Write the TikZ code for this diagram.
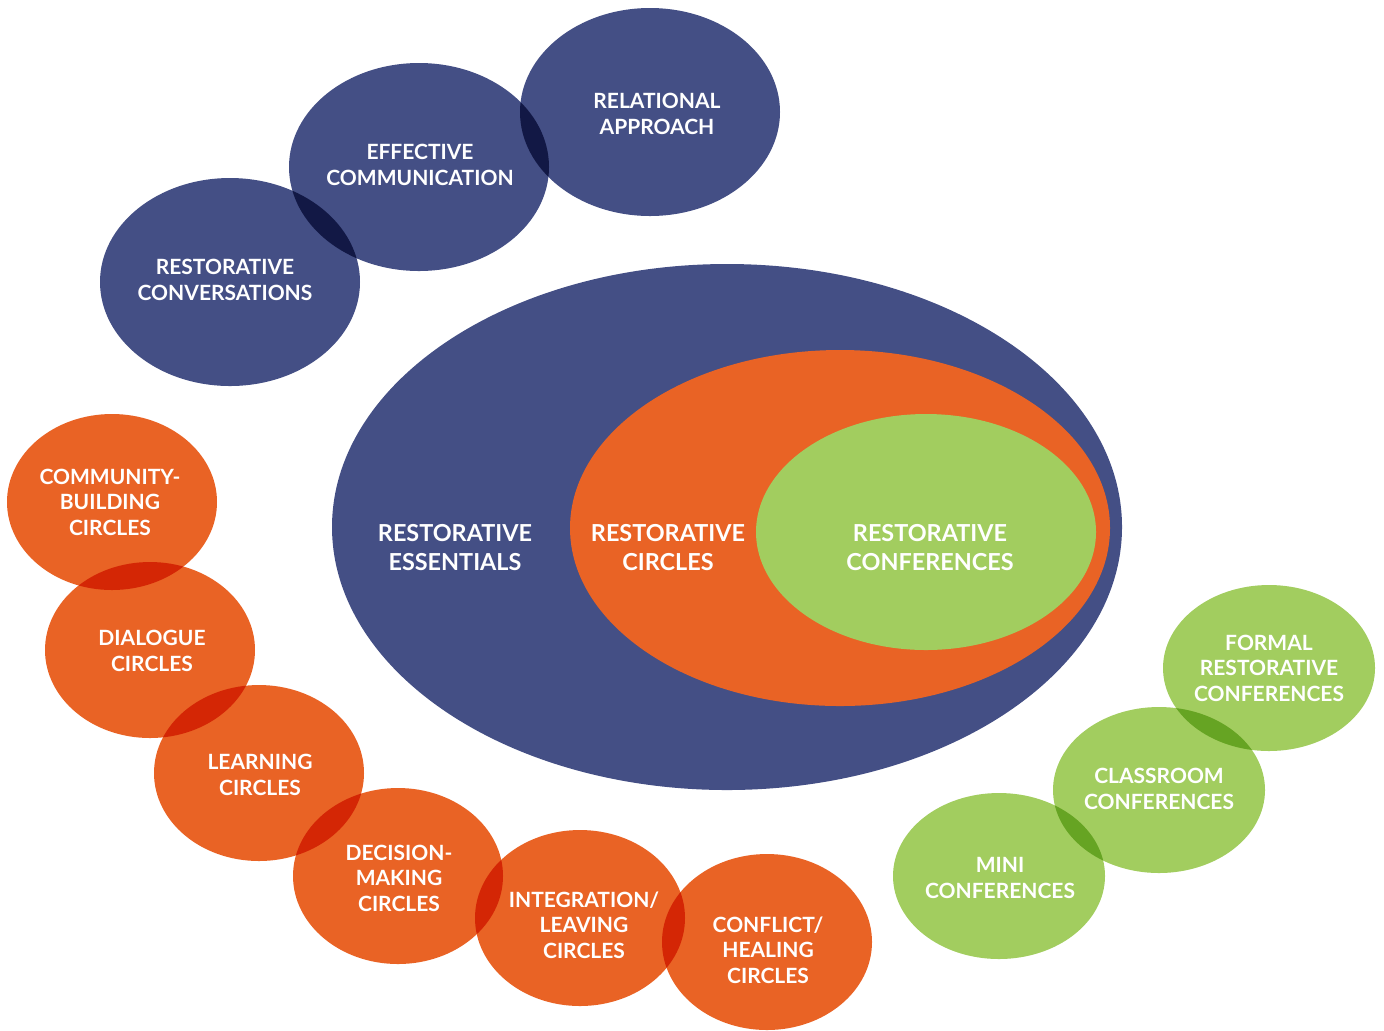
\documentclass[tikz,border=0pt]{standalone}
\usepackage{fontspec}
\setmainfont{Lato}
\usetikzlibrary{shapes.geometric}

\definecolor{navy}{RGB}{68,79,133}
\definecolor{rorange}{RGB}{233,99,37}
\definecolor{rgreen}{RGB}{162,205,95}

\tikzset{
  blob/.style={ellipse, inner sep=0pt, outer sep=0pt},
  navyblob/.style={blob, fill=navy, minimum width=130pt, minimum height=104pt},
  orangeblob/.style={blob, fill=rorange, minimum width=105pt, minimum height=88pt},
  greenblob/.style={blob, fill=rgreen, minimum width=106pt, minimum height=83pt},
  lbl/.style={text=white, align=center, inner sep=0pt,
    font=\bfseries\fontsize{10.5}{12.75}\selectfont},
  biglbl/.style={lbl, font=\bfseries\fontsize{11.7}{14.5}\selectfont}
}

\begin{document}
\begin{tikzpicture}[x=0.5pt, y=-0.5pt]
  \useasboundingbox (0,0) rectangle (1384,1030);

  % the three nested ellipses
  \node[blob, fill=navy, minimum width=395pt, minimum height=263pt] (ess) at (727,527) {};
  \node[blob, fill=rorange, minimum width=270pt, minimum height=178pt] (circ) at (840,528) {};
  \node[blob, fill=rgreen, minimum width=170pt, minimum height=118pt] (conf) at (926,532) {};

  % small ellipses, overlaps darken
  \begin{scope}[blend group=multiply]
    \node[navyblob] (rel) at (650,112) {};
    \node[navyblob] (eff) at (419,167) {};
    \node[navyblob] (conv) at (230,282) {};

    \node[orangeblob] (cb) at (112,502) {};
    \node[orangeblob] (dlg) at (150,650) {};
    \node[orangeblob] (lrn) at (259,773) {};
    \node[orangeblob] (dm) at (398,876) {};
    \node[orangeblob] (il) at (580,918) {};
    \node[orangeblob] (ch) at (767,942) {};

    \node[greenblob] (frc) at (1269,668) {};
    \node[greenblob] (cls) at (1159,790) {};
    \node[greenblob] (mini) at (999,876) {};
  \end{scope}

  % labels
  \node[biglbl] (ess-t) at (455,548) {RESTORATIVE\\ESSENTIALS};
  \node[biglbl] (circ-t) at (668,548) {RESTORATIVE\\CIRCLES};
  \node[biglbl] (conf-t) at (930,548) {RESTORATIVE\\CONFERENCES};

  \node[lbl] (rel-t) at (657,114) {RELATIONAL\\APPROACH};
  \node[lbl] (eff-t) at (420,165) {EFFECTIVE\\COMMUNICATION};
  \node[lbl] (conv-t) at (225,280) {RESTORATIVE\\CONVERSATIONS};

  \node[lbl] (cb-t) at (110,502) {COMMUNITY-\\BUILDING\\CIRCLES};
  \node[lbl] (dlg-t) at (152,651) {DIALOGUE\\CIRCLES};
  \node[lbl] (lrn-t) at (260,775) {LEARNING\\CIRCLES};
  \node[lbl] (dm-t) at (399,878) {DECISION-\\MAKING\\CIRCLES};
  \node[lbl] (il-t) at (584,925) {INTEGRATION/\\LEAVING\\CIRCLES};
  \node[lbl] (ch-t) at (768,950) {CONFLICT/\\HEALING\\CIRCLES};

  \node[lbl] (frc-t) at (1269,668) {FORMAL\\RESTORATIVE\\CONFERENCES};
  \node[lbl] (cls-t) at (1159,789) {CLASSROOM\\CONFERENCES};
  \node[lbl] (mini-t) at (1000,878) {MINI\\CONFERENCES};
\end{tikzpicture}
\end{document}
